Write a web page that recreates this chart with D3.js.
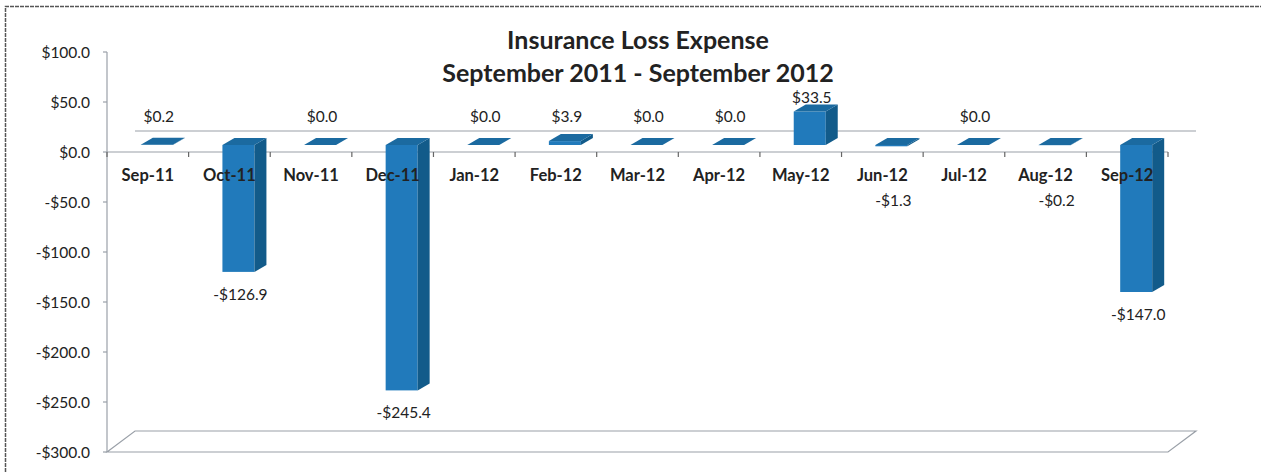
<!DOCTYPE html>
<html>
<head>
<meta charset="utf-8">
<script src="https://cdn.jsdelivr.net/npm/d3@7"></script>
<style>
  body { margin: 0; background: #fff; }
  svg { display: block; font-family: Lato, "Open Sans", sans-serif; }
</style>
</head>
<body>
<div id="chart"></div>
<script>
// donnees
const categories = ["Sep-11", "Oct-11", "Nov-11", "Dec-11", "Jan-12", "Feb-12", "Mar-12",
                    "Apr-12", "May-12", "Jun-12", "Jul-12", "Aug-12", "Sep-12"];
const values = [0.2, -126.9, 0.0, -245.4, 0.0, 3.9, 0.0, 0.0, 33.5, -1.3, 0.0, -0.2, -147.0];
const yTicks = [100, 50, 0, -50, -100, -150, -200, -250, -300];
const titleLines = ["Insurance Loss Expense", "September 2011 - September 2012"];

const W = 1261, H = 472;
const plotLeft = 107, plotRight = 1168, plotTop = 52, plotBottom = 452;
// profondeur 3D
const depthX = 28, depthY = -21;
const barShiftX = 9, barShiftY = -7;   // position de la face avant des barres
const barDX = 12, barDY = -7;          // epaisseur des barres
const barW = 32;

const colFront = "#217abb", colSide = "#125b8a", colTop = "#1b6aa0";

const svg = d3.select("#chart").append("svg").attr("width", W).attr("height", H);

// cadre
svg.append("path").attr("d", `M5.5,${H} L5.5,6.5 L${W},6.5`)
  .attr("fill", "none").attr("stroke", "#555").attr("stroke-width", 1.5)
  .attr("stroke-dasharray", "4,1");

const x = d3.scaleBand().domain(categories).range([plotLeft, plotRight]).padding(0);
const y = d3.scaleLinear().domain([-300, 100]).range([plotBottom, plotTop]);

const gridCol = "#9aa0a8";

// sol a -300
const y0 = y(-300);
svg.append("path")
  .attr("d", `M${plotLeft},${y0} L${plotLeft + depthX},${y0 + depthY} L${plotRight + depthX},${y0 + depthY} L${plotRight},${y0} Z`)
  .attr("fill", "none").attr("stroke", gridCol).attr("stroke-width", 1.2);

// ligne du zero (arriere)
svg.append("line")
  .attr("x1", plotLeft + depthX).attr("x2", plotRight + depthX)
  .attr("y1", y(0) + depthY).attr("y2", y(0) + depthY)
  .attr("stroke", gridCol).attr("stroke-width", 1.2);

// axe Y
svg.append("line").attr("x1", plotLeft).attr("x2", plotLeft).attr("y1", plotTop).attr("y2", plotBottom)
  .attr("stroke", gridCol).attr("stroke-width", 1.2);
yTicks.forEach(t => {
  svg.append("line").attr("x1", plotLeft - 4).attr("x2", plotLeft).attr("y1", y(t)).attr("y2", y(t))
    .attr("stroke", gridCol).attr("stroke-width", 1.2);
  svg.append("text").attr("x", 90).attr("y", y(t)).attr("text-anchor", "end")
    .attr("dominant-baseline", "central").style("font-size", "15.5px").style("fill", "#222")
    .text((t < 0 ? "-$" : "$") + Math.abs(t).toFixed(1));
});

// axe X (avant)
svg.append("line").attr("x1", plotLeft).attr("x2", plotRight).attr("y1", y(0)).attr("y2", y(0))
  .attr("stroke", gridCol).attr("stroke-width", 1.2);
categories.concat([null]).forEach((c, i) => {
  const xx = plotLeft + i * x.bandwidth();
  svg.append("line").attr("x1", xx).attr("x2", xx).attr("y1", y(0)).attr("y2", y(0) + 5)
    .attr("stroke", "#666").attr("stroke-width", 1.2);
});

// barres 3D
const bars = svg.append("g");
values.forEach((v, i) => {
  const c = categories[i];
  const x0 = x(c) + (x.bandwidth() - barW) / 2 + barShiftX;
  const x1 = x0 + barW;
  const yt = y(Math.max(v, 0)) + barShiftY;
  const yb = y(Math.min(v, 0)) + barShiftY;
  // face avant
  bars.append("rect").attr("x", x0).attr("y", yt).attr("width", barW).attr("height", yb - yt)
    .attr("fill", colFront);
  // cote
  bars.append("path")
    .attr("d", `M${x1},${yt} L${x1 + barDX},${yt + barDY} L${x1 + barDX},${yb + barDY} L${x1},${yb} Z`)
    .attr("fill", colSide);
  // dessus
  bars.append("path")
    .attr("d", `M${x0},${yt} L${x0 + barDX},${yt + barDY} L${x1 + barDX},${yt + barDY} L${x1},${yt} Z`)
    .attr("fill", colTop);
});

// etiquettes des categories (par dessus les barres)
categories.forEach(c => {
  svg.append("text").attr("x", x(c) + x.bandwidth() / 2).attr("y", 175)
    .attr("text-anchor", "middle").attr("dominant-baseline", "central")
    .style("font-size", "16.5px").style("font-weight", "bold").style("fill", "#222").text(c);
});

// etiquettes des valeurs
values.forEach((v, i) => {
  const cx = x(categories[i]) + x.bandwidth() / 2 + 11;
  let ly;
  if (v >= 0) {
    const topFace = y(v) + barShiftY + barDY;
    ly = Math.min(topFace - 8, 116);
  } else {
    const yb = y(v) + barShiftY;
    ly = Math.max(yb + 22, 200);
  }
  svg.append("text").attr("x", cx).attr("y", ly).attr("text-anchor", "middle")
    .attr("dominant-baseline", "central").style("font-size", "15.5px").style("fill", "#222")
    .text((v < 0 ? "-$" : "$") + Math.abs(v).toFixed(1));
});

// titre
titleLines.forEach((t, i) => {
  svg.append("text").attr("x", 638).attr("y", 39 + i * 33).attr("text-anchor", "middle")
    .attr("dominant-baseline", "central").style("font-size", "25px").style("font-weight", "bold")
    .style("fill", "#222").text(t);
});
</script>
</body>
</html>
